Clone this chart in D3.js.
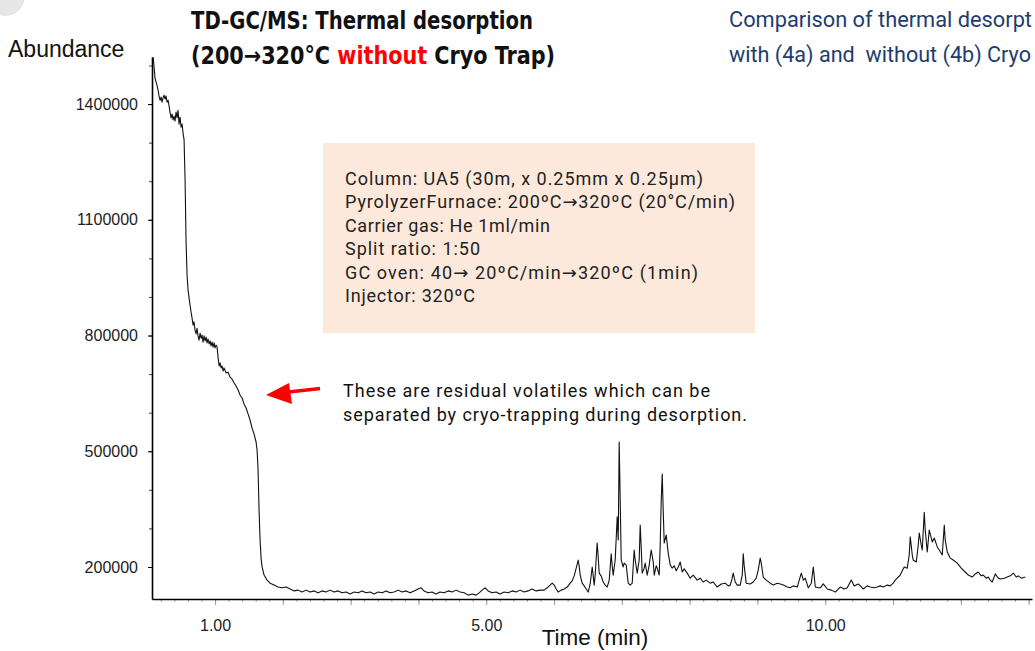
<!DOCTYPE html>
<html>
<head>
<meta charset="utf-8">
<script src="https://cdn.jsdelivr.net/npm/d3@7"></script>
<style>
  body { margin: 0; background: #fff; }
  svg { display: block; }
</style>
</head>
<body>
<div class="chart"></div>
<script>
// DATA ------------------------------------
// retention time (min) and abundance (x1000 counts)

// desorption hump (big unresolved volatiles)
const humpTimes = [
    0.086, 0.100, 0.115, 0.130, 0.144, 0.159, 0.174, 0.189, 0.204, 0.218,
    0.233, 0.248, 0.263, 0.277, 0.292, 0.307, 0.322, 0.336, 0.351, 0.366,
    0.381, 0.395, 0.410, 0.425, 0.440, 0.454, 0.469, 0.484, 0.499, 0.513,
    0.528, 0.543, 0.558, 0.572, 0.587, 0.602, 0.617, 0.631, 0.646, 0.661,
    0.676, 0.690, 0.705, 0.720, 0.735, 0.749, 0.764, 0.779, 0.794, 0.808,
    0.823, 0.838, 0.853, 0.868, 0.882, 0.897, 0.912, 0.927, 0.941, 0.956,
    0.971, 0.986, 1.000, 1.015, 1.030, 1.045, 1.060, 1.074, 1.089, 1.104,
    1.119, 1.133, 1.163, 1.192, 1.222, 1.251, 1.281, 1.310, 1.340, 1.369,
    1.399, 1.428, 1.458, 1.487, 1.516, 1.546, 1.575, 1.605, 1.620, 1.635,
    1.649, 1.664, 1.679, 1.694, 1.723, 1.767, 1.812, 1.871, 1.930, 1.989,
    2.048
];
const humpAbund = [
    1522, 1498, 1467, 1457, 1449, 1436, 1421, 1410, 1418, 1405,
    1416, 1423, 1413, 1421, 1405, 1410, 1395, 1379, 1364, 1374,
    1359, 1369, 1356, 1379, 1364, 1384, 1348, 1366, 1340, 1348,
    1325, 1307, 1203, 1048, 957, 918, 897, 879, 861, 845,
    827, 835, 814, 804, 819, 799, 788, 806, 793, 801,
    783, 799, 786, 796, 781, 791, 778, 786, 773, 783,
    770, 781, 768, 775, 770, 742, 721, 729, 716, 721,
    708, 716, 703, 705, 692, 687, 677, 669, 659, 646,
    638, 622, 612, 597, 581, 560, 545, 524, 503, 451,
    348, 270, 223, 200, 179, 166, 158, 153, 148, 146,
    148
];

// flat baseline
const baseTimes = [
    2.107, 2.166, 2.225, 2.284, 2.343, 2.402, 2.461, 2.520, 2.579, 2.638,
    2.697, 2.756, 2.815, 2.874, 2.933, 2.992, 3.051, 3.110, 3.169, 3.228,
    3.287, 3.346, 3.405, 3.464, 3.523, 3.582, 3.641, 3.700, 3.759, 3.818,
    3.877, 3.936, 3.995, 4.039, 4.083, 4.142, 4.201, 4.260, 4.319, 4.378,
    4.438, 4.497, 4.556, 4.615, 4.674, 4.733, 4.792, 4.851, 4.895, 4.939,
    4.983, 5.028, 5.087, 5.146, 5.205, 5.264, 5.323, 5.382, 5.441, 5.500,
    5.559, 5.618, 5.677, 5.736, 5.795, 5.854
];
const baseAbund = [
    143, 138, 140, 135, 140, 135, 138, 133, 138, 135,
    140, 135, 138, 133, 135, 130, 135, 133, 138, 133,
    135, 130, 135, 133, 138, 133, 135, 140, 135, 138,
    133, 138, 143, 146, 138, 133, 135, 130, 135, 133,
    138, 135, 140, 135, 133, 127, 130, 127, 133, 140,
    146, 138, 133, 135, 130, 135, 133, 138, 135, 140,
    135, 138, 143, 138, 140, 140
];

// main group of resolved peaks
const peakTimes = [
    5.899, 5.943, 5.973, 6.002, 6.032, 6.061, 6.106, 6.150, 6.194, 6.238,
    6.268, 6.297, 6.327, 6.356, 6.371, 6.386, 6.415, 6.445, 6.474, 6.504,
    6.533, 6.563, 6.578, 6.592, 6.607, 6.636, 6.651, 6.666, 6.695, 6.725,
    6.755, 6.784, 6.814, 6.843, 6.858, 6.873, 6.902, 6.932, 6.947, 6.961,
    6.976, 6.991, 7.020, 7.035, 7.064, 7.094, 7.123, 7.153, 7.182, 7.197,
    7.227, 7.256, 7.271, 7.286, 7.301, 7.330, 7.345, 7.374, 7.404, 7.433,
    7.463, 7.478, 7.507, 7.522, 7.551, 7.566, 7.581, 7.596, 7.610, 7.625,
    7.655, 7.684, 7.714, 7.743, 7.773, 7.802, 7.832, 7.861, 7.891, 7.920,
    7.964, 8.009, 8.053, 8.112, 8.156, 8.200, 8.245, 8.304, 8.348, 8.407,
    8.466, 8.525, 8.569, 8.599, 8.628, 8.643, 8.673, 8.702, 8.746, 8.776,
    8.791, 8.805, 8.835, 8.894, 8.938, 8.982, 9.012, 9.041, 9.056, 9.086
];
const peakAbund = [
    146, 153, 158, 153, 143, 135, 140, 143, 148, 158,
    164, 177, 197, 218, 202, 179, 158, 151, 143, 135,
    156, 200, 177, 153, 179, 262, 228, 184, 177, 161,
    153, 148, 166, 234, 203, 179, 218, 330, 270, 524,
    373, 218, 200, 210, 205, 158, 153, 158, 244, 218,
    184, 218, 309, 249, 184, 197, 210, 179, 205, 244,
    213, 179, 203, 197, 179, 257, 373, 441, 348, 262,
    283, 236, 205, 197, 203, 190, 200, 213, 187, 195,
    184, 171, 179, 166, 171, 161, 166, 158, 161, 148,
    156, 158, 151, 153, 171, 184, 161, 153, 153, 179,
    234, 203, 158, 156, 161, 171, 192, 223, 210, 174
];

// late eluting cluster and tail
const lateTimes = [
    9.130, 9.189, 9.234, 9.293, 9.337, 9.381, 9.440, 9.484, 9.529, 9.588,
    9.617, 9.647, 9.677, 9.706, 9.750, 9.795, 9.824, 9.854, 9.898, 9.928,
    9.972, 10.031, 10.090, 10.149, 10.221, 10.280, 10.325, 10.384, 10.428, 10.487,
    10.561, 10.620, 10.664, 10.723, 10.767, 10.811, 10.856, 10.915, 10.959, 11.003,
    11.033, 11.077, 11.106, 11.136, 11.166, 11.210, 11.239, 11.254, 11.284, 11.298,
    11.343, 11.372, 11.387, 11.416, 11.431, 11.461, 11.475, 11.505, 11.534, 11.579,
    11.608, 11.653, 11.682, 11.726, 11.756, 11.770, 11.800, 11.844, 11.888, 11.947,
    12.006, 12.065, 12.110, 12.169, 12.213, 12.257, 12.301, 12.331, 12.375, 12.405,
    12.434, 12.464, 12.508, 12.552, 12.582, 12.641, 12.685, 12.730, 12.774, 12.818,
    12.847, 12.892, 12.951
];
const lateAbund = [
    166, 158, 153, 158, 156, 153, 148, 146, 151, 148,
    166, 184, 166, 171, 146, 158, 200, 148, 146, 146,
    156, 143, 140, 135, 148, 143, 146, 166, 151, 156,
    143, 151, 148, 146, 148, 151, 148, 153, 151, 158,
    166, 174, 179, 190, 200, 197, 231, 278, 231, 218,
    213, 257, 288, 257, 244, 342, 296, 239, 296, 265,
    275, 252, 244, 231, 309, 270, 239, 223, 218, 210,
    197, 187, 179, 174, 182, 187, 177, 179, 171, 174,
    166, 161, 182, 171, 169, 171, 174, 177, 184, 174,
    177, 171, 174
];

// axis ticks
const yTickValues = [200, 500, 800, 1100, 1400];   // x1000
const xTickValues = [1, 5, 10];

// texts
const titleLine1 = 'TD-GC/MS: Thermal desorption';
const titleLine2 = ['(200\u2192320\u00b0C ', 'without', ' Cryo Trap)'];
// only the part that shows inside the page in the original
const captionLines = ['Comparison of thermal desorpt', 'with (4a) and  without (4b) Cryo'];
const infoLines = [
    'Column: UA5 (30m, x 0.25mm x 0.25\u00b5m)',
    'PyrolyzerFurnace: 200\u00baC\u2192320\u00baC (20\u00b0C/min)',
    'Carrier gas: He 1ml/min',
    'Split ratio: 1:50',
    'GC oven: 40\u2192 20\u00baC/min\u2192320\u00baC (1min)',
    'Injector: 320\u00baC'
];
const infoWidths = [358, 390, 205, 135, 353, 130];
const noteLines = [
    'These are residual volatiles which can be',
    'separated by cryo-trapping during desorption.'
];
const noteWidths = [367, 404];

// CHART INIT ------------------------------
const width = 1035,
    height = 651;

const svg = d3
    .select('.chart')
    .append('svg')
    .attr('width', width)
    .attr('height', height)
    .style('font-family', 'Liberation Sans, Arial, sans-serif');

// grey corner blob
svg.append('circle')
    .attr('cx', 5)
    .attr('cy', -4)
    .attr('r', 20)
    .attr('fill', '#e6e6e6');

const xScale = d3.scaleLinear()
    .domain([0.07, 13.05])
    .range([152, 1032]);

const yScale = d3.scaleLinear()
    .domain([117, 1522])
    .range([599, 57]);

// zip the segments together
function zip(ts, as) {
    return ts.map((t, i) => ({ t: t, a: as[i] })).filter(d => d.a !== undefined);
}
const trace = [].concat(
    zip(humpTimes, humpAbund),
    zip(baseTimes, baseAbund),
    zip(peakTimes, peakAbund),
    zip(lateTimes, lateAbund)
);

// AXES ------------------------------------
// x minor + major ticks
svg.append('g')
    .attr('class', 'x-minor')
    .attr('transform', 'translate(0,599)')
    .call(d3.axisBottom(xScale).tickValues(d3.range(0.2, 13.01, 0.2)).tickSize(3).tickFormat(''))
    .call(g => g.select('.domain').remove())
    .call(g => g.selectAll('line').attr('stroke', '#aaa'));

svg.append('g')
    .attr('class', 'x-major')
    .attr('transform', 'translate(0,599)')
    .call(d3.axisBottom(xScale).tickValues(d3.range(1, 14)).tickSize(6).tickFormat(''))
    .call(g => g.select('.domain').remove())
    .call(g => g.selectAll('line').attr('stroke', '#999'));

svg.append('g')
    .attr('class', 'x-axis')
    .attr('transform', 'translate(0,599)')
    .call(d3.axisBottom(xScale).tickValues(xTickValues).tickSize(0).tickPadding(21)
        .tickFormat(d3.format('.2f')).tickSizeOuter(0))
    .call(g => g.select('.domain').attr('stroke', '#000').attr('stroke-width', 1.6))
    .call(g => g.selectAll('text')
        .attr('font-family', 'Liberation Sans, Arial, sans-serif')
        .attr('font-size', 16)
        .attr('fill', '#222'));

// y axis
svg.append('g')
    .attr('class', 'y-minor')
    .attr('transform', 'translate(152,0)')
    .call(d3.axisLeft(yScale).tickValues(d3.range(200, 1501, 100)).tickSize(3).tickFormat(''))
    .call(g => g.select('.domain').remove())
    .call(g => g.selectAll('line').attr('stroke', '#444'));

svg.append('g')
    .attr('class', 'y-axis')
    .attr('transform', 'translate(152,0)')
    .call(d3.axisLeft(yScale).tickValues(yTickValues).tickSize(4).tickPadding(10)
        .tickFormat(d => d3.format('d')(d * 1000)).tickSizeOuter(0))
    .call(g => g.select('.domain').attr('stroke', '#000').attr('stroke-width', 1.6))
    .call(g => g.selectAll('text')
        .attr('font-family', 'Liberation Sans, Arial, sans-serif')
        .attr('font-size', 16)
        .attr('fill', '#222'));

// axis titles
svg.append('text')
    .attr('x', 8)
    .attr('y', 57)
    .attr('font-size', 23)
    .attr('fill', '#111')
    .text('Abundance');

svg.append('text')
    .attr('x', 595)
    .attr('y', 645)
    .attr('text-anchor', 'middle')
    .attr('font-size', 22.5)
    .attr('fill', '#111')
    .text('Time (min)');

// INFO BOX --------------------------------
svg.append('rect')
    .attr('x', 323)
    .attr('y', 143)
    .attr('width', 432)
    .attr('height', 190)
    .attr('fill', '#fde9db');

// arrows look better in DejaVu, so split lines around them
function withArrows(sel) {
    sel.each(function (d) {
        const parts = d.split('\u2192');
        const t = d3.select(this);
        parts.forEach((p, i) => {
            if (i > 0) {
                t.append('tspan')
                    .attr('font-family', 'DejaVu Sans, sans-serif')
                    .text('\u2192');
            }
            t.append('tspan').text(p);
        });
    });
}

svg.append('g')
    .selectAll('text')
    .data(infoLines)
    .join('text')
    .attr('x', 345)
    .attr('y', (d, i) => 185 + i * 23.4)
    .attr('font-family', 'Roboto, Open Sans, sans-serif')
    .attr('font-size', 18)
    .attr('fill', '#222')
    .attr('textLength', (d, i) => infoWidths[i])
    .style('white-space', 'pre')
    .call(withArrows);

// TRACE -----------------------------------
const line = d3.line()
    .x(d => xScale(d.t))
    .y(d => yScale(d.a));

svg.append('path')
    .datum(trace)
    .attr('fill', 'none')
    .attr('stroke', '#111')
    .attr('stroke-width', 1.1)
    .attr('stroke-linejoin', 'round')
    .attr('d', line);

// ANNOTATION ------------------------------
svg.append('line')
    .attr('x1', 320).attr('y1', 388.5)
    .attr('x2', 284).attr('y2', 392.5)
    .attr('stroke', '#ff0000')
    .attr('stroke-width', 3.5);

svg.append('path')
    .attr('d', 'M266,395 L289,383 L292,404 Z')
    .attr('fill', '#ff0000');

svg.append('g')
    .selectAll('text')
    .data(noteLines)
    .join('text')
    .attr('x', 343)
    .attr('y', (d, i) => 397 + i * 24)
    .attr('font-family', 'Roboto, Open Sans, sans-serif')
    .attr('font-size', 18)
    .attr('fill', '#111')
    .attr('textLength', (d, i) => noteWidths[i])
    .text(d => d);

// TITLES ----------------------------------
const titleFont = 'Liberation Sans Narrow, DejaVu Sans Condensed, Arial Narrow, sans-serif';

svg.append('text')
    .attr('x', 191)
    .attr('y', 29)
    .attr('font-family', titleFont)
    .attr('font-weight', 'bold')
    .attr('font-size', 24)
    .attr('fill', '#111')
    .attr('textLength', 342)
    .attr('lengthAdjust', 'spacingAndGlyphs')
    .text(titleLine1);

const t2 = svg.append('text')
    .attr('x', 191)
    .attr('y', 64)
    .attr('font-family', titleFont)
    .attr('font-weight', 'bold')
    .attr('font-size', 24)
    .attr('fill', '#111')
    .attr('textLength', 364)
    .attr('lengthAdjust', 'spacingAndGlyphs')
    .style('white-space', 'pre');

t2.selectAll('tspan')
    .data(titleLine2)
    .join('tspan')
    .attr('fill', (d, i) => i === 1 ? '#ff0000' : '#111')
    .text(d => d);

// caption at the top right, squeezed to end at the page edge
svg.append('g')
    .selectAll('text')
    .data(captionLines)
    .join('text')
    .attr('x', 729)
    .attr('y', (d, i) => 27 + i * 35)
    .attr('font-family', 'Roboto, Open Sans, sans-serif')
    .attr('font-size', 21.5)
    .attr('fill', '#1e3c6e')
    .attr('textLength', (d, i) => [303, 302][i])
    .attr('lengthAdjust', 'spacingAndGlyphs')
    .style('white-space', 'pre')
    .text(d => d);
</script>
</body>
</html>
